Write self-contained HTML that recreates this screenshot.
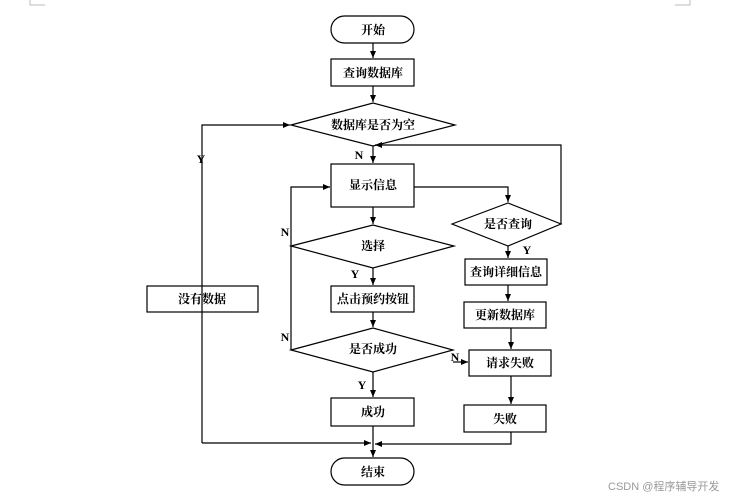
<!DOCTYPE html>
<html><head><meta charset="utf-8"><style>
body{margin:0;background:#fff}
svg text{font-family:"Liberation Serif","Noto Serif CJK SC",serif;font-weight:bold;font-size:12px;fill:#000}
</style></head><body>
<svg width="744" height="498" viewBox="0 0 744 498" xmlns="http://www.w3.org/2000/svg">
<defs><marker id="a" markerWidth="8" markerHeight="8" refX="7" refY="3" orient="auto" markerUnits="userSpaceOnUse"><path d="M0,0 L7,3 L0,6 z" fill="#000"/></marker></defs>
<g stroke="#000" stroke-width="1.2" fill="none">
<path d="M30,0 V5 H45 M690,0 V5 H675" stroke="#bbb" stroke-width="1"/>
<rect x="331" y="16" width="83" height="27" rx="13.5" fill="#fff"/>
<rect x="331" y="59" width="83" height="27" fill="#fff"/>
<polygon points="291,125 373,103 455,125 373,146" fill="#fff"/>
<rect x="331" y="164" width="83" height="43" fill="#fff"/>
<polygon points="291,246 373,225 454,246 373,268" fill="#fff"/>
<rect x="331" y="286" width="83" height="26" fill="#fff"/>
<polygon points="291,350 373,328 453,350 373,372" fill="#fff"/>
<rect x="331" y="398" width="83" height="28" fill="#fff"/>
<rect x="331" y="458" width="83" height="27" rx="13.5" fill="#fff"/>
<rect x="147" y="286" width="111" height="26" fill="#fff"/>
<polygon points="452,224 508,203 561,224 508,246" fill="#fff"/>
<rect x="465" y="259" width="82" height="26" fill="#fff"/>
<rect x="464" y="302" width="82" height="26" fill="#fff"/>
<rect x="469" y="350" width="82" height="26" fill="#fff"/>
<rect x="464" y="405" width="82" height="27" fill="#fff"/>
<line x1="373" y1="43" x2="373" y2="58" marker-end="url(#a)"/>
<line x1="373" y1="86" x2="373" y2="102" marker-end="url(#a)"/>
<line x1="373" y1="146" x2="373" y2="163" marker-end="url(#a)"/>
<line x1="373" y1="207" x2="373" y2="224" marker-end="url(#a)"/>
<line x1="373" y1="268" x2="373" y2="285" marker-end="url(#a)"/>
<line x1="373" y1="312" x2="373" y2="327" marker-end="url(#a)"/>
<line x1="373" y1="372" x2="373" y2="397" marker-end="url(#a)"/>
<line x1="373" y1="426" x2="373" y2="457" marker-end="url(#a)"/>
<path d="M202,443 V125 H290" marker-end="url(#a)"/>
<path d="M202,443 H371" marker-end="url(#a)"/>
<path d="M511,432 V444 H375" marker-end="url(#a)"/>
<path d="M291,350 V187 H330" marker-end="url(#a)"/>
<path d="M414,187 H508 V202" marker-end="url(#a)"/>
<path d="M561,224 V145 H375" marker-end="url(#a)"/>
<line x1="508" y1="246" x2="508" y2="258" marker-end="url(#a)"/>
<line x1="508" y1="285" x2="508" y2="301" marker-end="url(#a)"/>
<line x1="511" y1="328" x2="511" y2="349" marker-end="url(#a)"/>
<line x1="511" y1="376" x2="511" y2="404" marker-end="url(#a)"/>
<line x1="453" y1="362" x2="468" y2="362" marker-end="url(#a)"/>
</g>
<g text-anchor="middle">
<text x="373" y="34">开始</text>
<text x="373" y="77">查询数据库</text>
<text x="373" y="129">数据库是否为空</text>
<text x="373" y="189">显示信息</text>
<text x="373" y="250">选择</text>
<text x="373" y="303">点击预约按钮</text>
<text x="373" y="353">是否成功</text>
<text x="373" y="416">成功</text>
<text x="373" y="476">结束</text>
<text x="202" y="303">没有数据</text>
<text x="508" y="228">是否查询</text>
<text x="506" y="276">查询详细信息</text>
<text x="505" y="319">更新数据库</text>
<text x="510" y="367">请求失败</text>
<text x="505" y="423">失败</text>
<text x="201" y="163">Y</text>
<text x="359" y="159">N</text>
<text x="285" y="236">N</text>
<text x="355" y="278">Y</text>
<text x="285" y="341">N</text>
<text x="362" y="389">Y</text>
<text x="455" y="361">N</text>
<text x="527" y="254">Y</text>
</g>
<text x="608" y="490" style="font-family:'Liberation Sans','Noto Sans CJK SC',sans-serif;font-weight:normal;font-size:11px;fill:#999">CSDN @程序辅导开发</text>
</svg>
</body></html>
